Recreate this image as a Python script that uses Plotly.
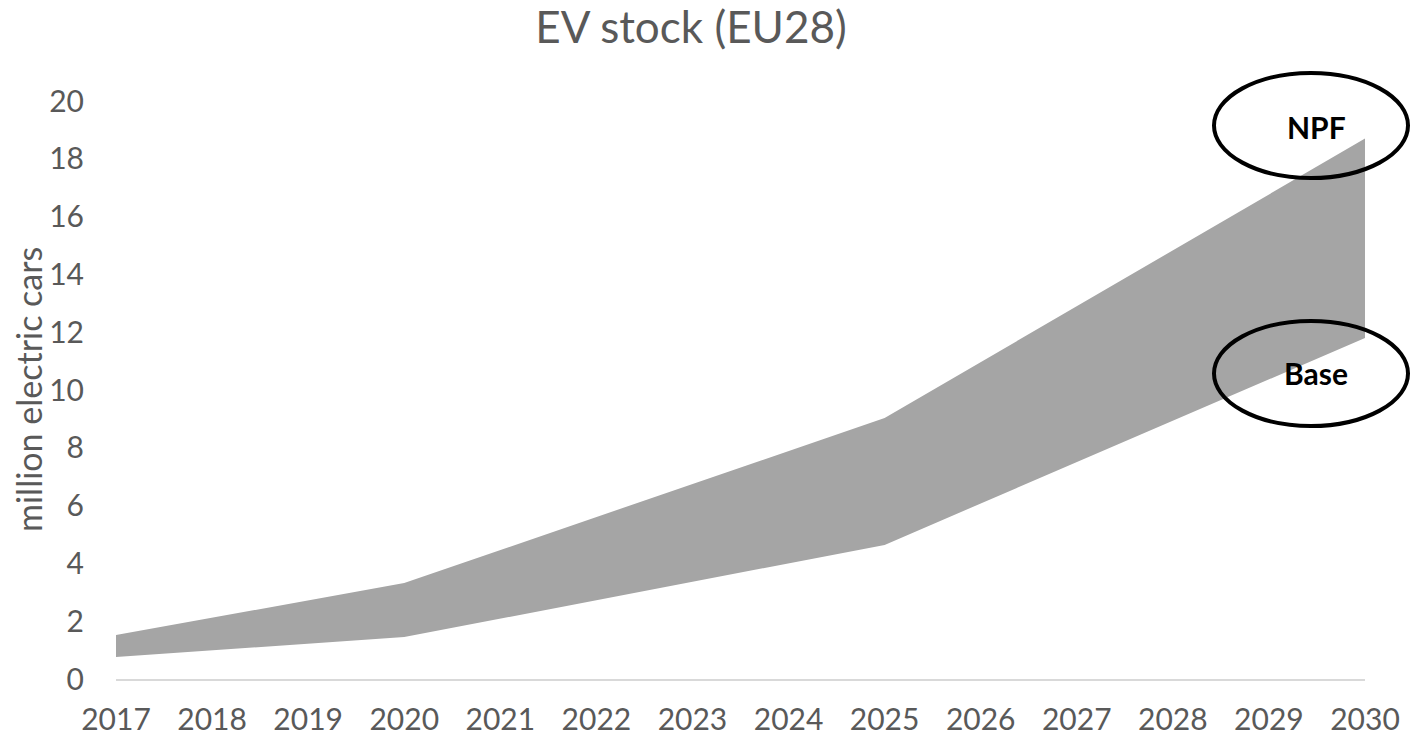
import plotly.graph_objects as go

years = [2017, 2020, 2025, 2030]
base = [0.76, 1.45, 4.64, 11.8]
npf = [1.52, 3.32, 9.03, 18.7]
tick_years = list(range(2017, 2031))
y_ticks = list(range(0, 21, 2))

OFF = 8  # page body offset
W, H = 1420 - OFF, 735 - OFF
L, T = 116 - OFF, 101 - OFF
R = W - (1365 - OFF)
B = H - (679 - OFF)
FONT = "Lato, Open Sans, sans-serif"

fig = go.Figure()
fig.add_trace(go.Scatter(x=years, y=base, mode="lines", line=dict(width=0, color="#a5a5a5"),
                         showlegend=False, hoverinfo="skip"))
fig.add_trace(go.Scatter(x=years, y=npf, mode="lines", line=dict(width=0, color="#a5a5a5"),
                         fill="tonexty", fillcolor="#a5a5a5", showlegend=False))

pw, ph = W - L - R, H - T - B
def px(x): return (x - OFF - L) / pw
def py(y): return (H - B - (y - OFF)) / ph

for (x0, x1, y0, y1, label, cy) in [(1214, 1408, 73, 178, "NPF", 127), (1214, 1408, 321, 426, "Base", 373)]:
    fig.add_shape(type="circle", xref="paper", yref="paper",
                  x0=px(x0), x1=px(x1), y0=py(y1), y1=py(y0),
                  line=dict(color="black", width=4), fillcolor="rgba(0,0,0,0)", layer="above")
    fig.add_annotation(xref="paper", yref="paper", x=px(1316), y=py(cy),
                       text=f"<b>{label}</b>", showarrow=False, xanchor="center", yanchor="middle",
                       font=dict(family=FONT, size=30, color="black"))

fig.add_annotation(xref="paper", yref="paper", x=px(28), y=py(390), text="million electric cars",
                   textangle=-90, showarrow=False, xanchor="center", yanchor="middle",
                   font=dict(family=FONT, size=34, color="#595959"))

fig.update_layout(
    width=W, height=H,
    margin=dict(l=L, r=R, t=T, b=B, pad=0),
    paper_bgcolor="white", plot_bgcolor="white",
    font=dict(family=FONT, color="#595959"),
    title=dict(text="EV stock (EU28)", x=(691 - OFF) / W, xanchor="center",
               y=1 - (28 - OFF) / H, yanchor="middle",
               font=dict(size=44, color="#595959")),
    xaxis=dict(range=[2017, 2030], tickvals=tick_years, ticktext=[str(y) for y in tick_years],
               showgrid=False, zeroline=False, showline=True, linecolor="#d9d9d9", linewidth=2,
               tickfont=dict(size=30, color="#595959"), ticks="", ticklabelstandoff=13,
               automargin=False),
    yaxis=dict(range=[0, 20], tickvals=y_ticks, showgrid=False, zeroline=False, showline=False,
               tickfont=dict(size=30, color="#595959"), ticks="", ticklabelstandoff=31,
               automargin=False),
)

fig.write_html("out.html")
